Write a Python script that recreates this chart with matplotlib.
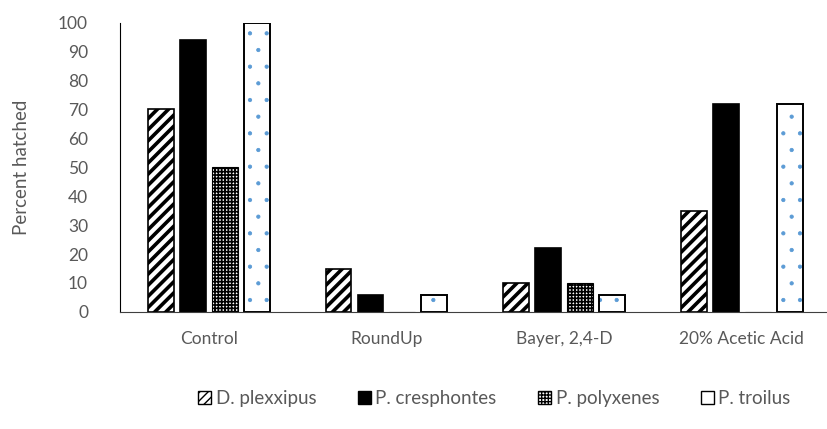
import matplotlib.pyplot as plt
import numpy as np
from matplotlib.patches import Patch

plt.rcParams['font.family'] = ['Lato', 'DejaVu Sans']

categories = ['Control', 'RoundUp', 'Bayer, 2,4-D', '20% Acetic Acid']
species = ['D. plexxipus', 'P. cresphontes', 'P. polyxenes', 'P. troilus']
plexxipus = [70, 15, 10, 35]
cresphontes = [94, 6, 22, 72]
polyxenes = [50, 0, 10, 0]
troilus = [100, 6, 6, 72]

txt = '#595959'
fig = plt.figure(figsize=(8.28, 4.29), dpi=100)
ax = fig.add_axes([0.145, 0.273, 0.858, 0.674])

x = np.arange(len(categories))
w = 0.146
step = 0.18
offs = (np.arange(4) - 1.5) * step


def hatch_lw(bars, lw):
    for b in bars:
        b.set_hatch_linewidth(lw)


b1 = ax.bar(x + offs[0], plexxipus, w, facecolor='white', edgecolor='black',
            hatch='///', linewidth=1.2)
hatch_lw(b1, 2.6)
ax.bar(x + offs[1], cresphontes, w, facecolor='black', edgecolor='black',
       linewidth=1.2)
b3 = ax.bar(x + offs[2], polyxenes, w, facecolor='white', edgecolor='black',
            hatch='+++++', linewidth=0.8)
hatch_lw(b3, 1.2)
# dotted fill in blue, black outline on top
b4 = ax.bar(x + offs[3], troilus, w, facecolor='white', edgecolor='#5b9bd5',
            hatch='.', linewidth=0)
hatch_lw(b4, 0.6)
ax.bar(x + offs[3], troilus, w, fill=False, edgecolor='black', linewidth=1.4)

ax.set_ylim(0, 100)
ax.set_xlim(-0.5, 3.5)
ax.set_yticks(range(0, 101, 10))
ax.set_xticks(x)
ax.set_xticklabels(categories)
ax.tick_params(length=0, labelsize=12.5, colors=txt)
ax.tick_params(axis='x', pad=14)
ax.tick_params(axis='y', pad=23)
for s in ['top', 'right']:
    ax.spines[s].set_visible(False)
ax.spines['left'].set_color('black')
ax.spines['bottom'].set_color('#404040')
ax.set_ylabel('Percent hatched', fontsize=13.5, color=txt, labelpad=20)

handles = [
    Patch(facecolor='white', edgecolor='black', hatch='////', label=species[0]),
    Patch(facecolor='black', edgecolor='black', label=species[1]),
    Patch(facecolor='white', edgecolor='black', hatch='+++++', label=species[2]),
    Patch(facecolor='white', edgecolor='black', label=species[3]),
]
for h in handles[::2]:
    h.set_hatch_linewidth(1.2)
fig.legend(handles=handles, loc='center', bbox_to_anchor=(0.597, 0.07), ncol=4,
           frameon=False, fontsize=13.5, labelcolor=txt, handlelength=0.7,
           handleheight=0.7, handletextpad=0.25, columnspacing=2.2)

fig.savefig('out.png', dpi=100)
